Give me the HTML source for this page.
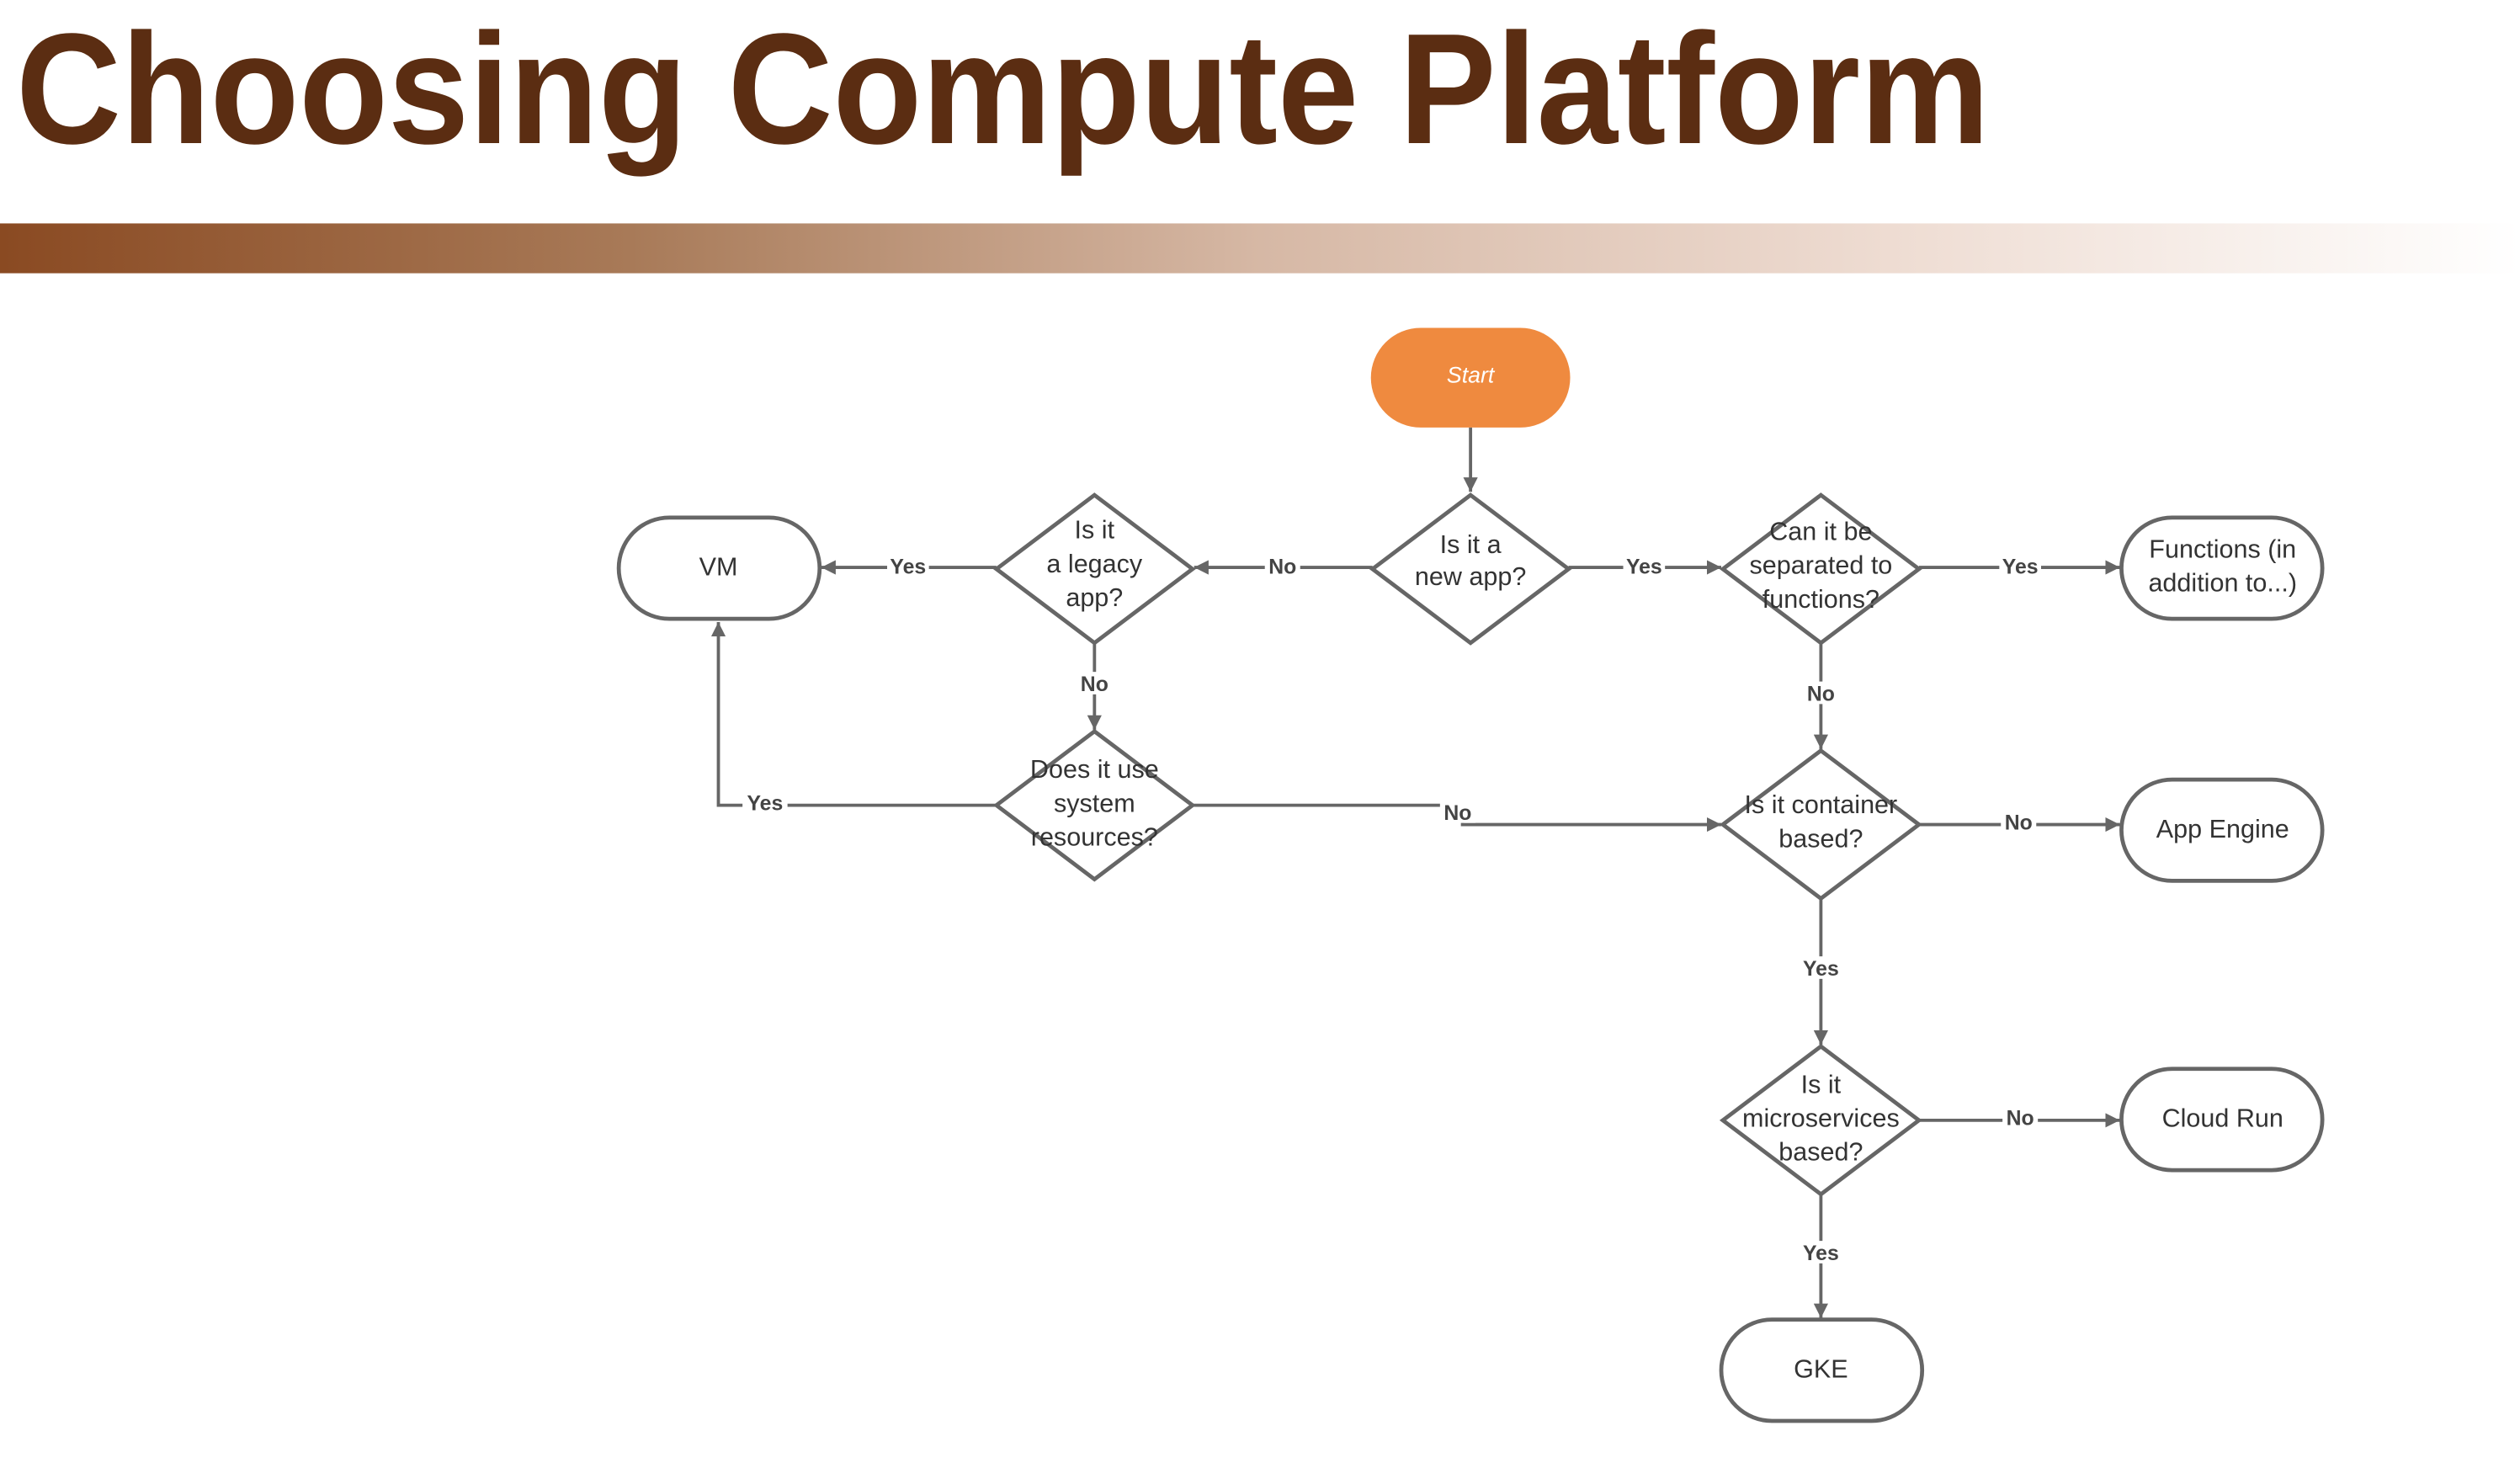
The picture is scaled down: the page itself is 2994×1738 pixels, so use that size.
<!DOCTYPE html>
<html><head><meta charset="utf-8"><style>
html,body{margin:0;padding:0;background:#fff;}
svg{display:block;}
</style></head><body>
<svg width="2994" height="1738" viewBox="0 0 1568 910.2" preserveAspectRatio="none" xmlns="http://www.w3.org/2000/svg" font-family="Liberation Sans, sans-serif">
<defs>
<linearGradient id="g" x1="0" x2="1" y1="0" y2="0">
<stop offset="0" stop-color="#8a4a22"/>
<stop offset="0.25" stop-color="#a87a58"/>
<stop offset="0.5" stop-color="#d6b8a5"/>
<stop offset="0.75" stop-color="#eedcd2"/>
<stop offset="1" stop-color="#ffffff"/>
</linearGradient>
<marker id="a" viewBox="0 0 10 10" refX="10" refY="5" markerWidth="9" markerHeight="9" markerUnits="userSpaceOnUse" orient="auto"><path d="M0,0 L10,5 L0,10 z" fill="#666"/></marker>
</defs>
<text x="10" y="89" font-size="98" font-weight="bold" fill="#5b2d12" textLength="1228" lengthAdjust="spacingAndGlyphs">Choosing Compute Platform</text>
<rect x="0" y="139" width="1568" height="31" fill="url(#g)"/>

<g stroke="#666" stroke-width="2" fill="none">
<line x1="915" y1="266" x2="915" y2="306" marker-end="url(#a)"/>
<line x1="854" y1="353" x2="743" y2="353" marker-end="url(#a)"/>
<line x1="620" y1="353" x2="511" y2="353" marker-end="url(#a)"/>
<line x1="976" y1="353" x2="1071" y2="353" marker-end="url(#a)"/>
<line x1="1194" y1="353" x2="1319" y2="353" marker-end="url(#a)"/>
<line x1="1133" y1="400" x2="1133" y2="466" marker-end="url(#a)"/>
<line x1="681" y1="400" x2="681" y2="454" marker-end="url(#a)"/>
<polyline points="620,501 447,501 447,387" marker-end="url(#a)"/>
<polyline points="742,501 910,501 910,513 1071,513" marker-end="url(#a)"/>
<line x1="1194" y1="513" x2="1319" y2="513" marker-end="url(#a)"/>
<line x1="1133" y1="559" x2="1133" y2="650" marker-end="url(#a)"/>
<line x1="1194" y1="697" x2="1319" y2="697" marker-end="url(#a)"/>
<line x1="1133" y1="743" x2="1133" y2="820" marker-end="url(#a)"/>
</g>

<g font-size="13" font-weight="bold" fill="#444" text-anchor="middle">
<rect x="787" y="345" width="22" height="14" fill="#fff"/><text x="798" y="357">No</text>
<rect x="552" y="345" width="26" height="14" fill="#fff"/><text x="565" y="357">Yes</text>
<rect x="1010" y="345" width="26" height="14" fill="#fff"/><text x="1023" y="357">Yes</text>
<rect x="1244" y="345" width="26" height="14" fill="#fff"/><text x="1257" y="357">Yes</text>
<rect x="1122" y="424" width="22" height="14" fill="#fff"/><text x="1133" y="436">No</text>
<rect x="670" y="418" width="22" height="14" fill="#fff"/><text x="681" y="430">No</text>
<rect x="462" y="493" width="28" height="14" fill="#fff"/><text x="476" y="504">Yes</text>
<rect x="896" y="498" width="22" height="14" fill="#fff"/><text x="907" y="510">No</text>
<rect x="1245" y="505" width="22" height="14" fill="#fff"/><text x="1256" y="516">No</text>
<rect x="1119" y="595" width="28" height="14" fill="#fff"/><text x="1133" y="607">Yes</text>
<rect x="1246" y="689" width="22" height="14" fill="#fff"/><text x="1257" y="700">No</text>
<rect x="1119" y="772" width="28" height="14" fill="#fff"/><text x="1133" y="784">Yes</text>
</g>

<rect x="853" y="204" width="124" height="62" rx="31" fill="#ef8a3f"/>
<text x="915" y="238" font-size="14" font-style="italic" fill="#fff" text-anchor="middle">Start</text>

<g fill="#fff" stroke="#666" stroke-width="2.5">
<polygon points="915,308 976,354 915,400 854,354"/>
<polygon points="681,308 742,354 681,400 620,354"/>
<polygon points="1133,308 1194,354 1133,400 1072,354"/>
<polygon points="681,455 742,501 681,547 620,501"/>
<polygon points="1133,467 1194,513 1133,559 1072,513"/>
<polygon points="1133,651 1194,697 1133,743 1072,697"/>
<rect x="385" y="322" width="125" height="63" rx="31.5"/>
<rect x="1320" y="322" width="125" height="63" rx="31.5"/>
<rect x="1320" y="485" width="125" height="63" rx="31.5"/>
<rect x="1320" y="665" width="125" height="63" rx="31.5"/>
<rect x="1071" y="821" width="125" height="63" rx="31.5"/>
</g>

<g font-size="16" fill="#333" text-anchor="middle">
<text x="915" y="344">Is it a</text><text x="915" y="364">new app?</text>
<text x="681" y="335">Is it</text><text x="681" y="356">a legacy</text><text x="681" y="377">app?</text>
<text x="1133" y="336">Can it be</text><text x="1133" y="357">separated to</text><text x="1133" y="378">functions?</text>
<text x="681" y="484">Does it use</text><text x="681" y="505">system</text><text x="681" y="526">resources?</text>
<text x="1133" y="506">Is it container</text><text x="1133" y="527">based?</text>
<text x="1133" y="680">Is it</text><text x="1133" y="701">microservices</text><text x="1133" y="722">based?</text>
<text x="447" y="358">VM</text>
<text x="1383" y="347">Functions (in</text><text x="1383" y="368">addition to...)</text>
<text x="1383" y="521">App Engine</text>
<text x="1383" y="701">Cloud Run</text>
<text x="1133" y="857">GKE</text>
</g>
</svg>
</body></html>
